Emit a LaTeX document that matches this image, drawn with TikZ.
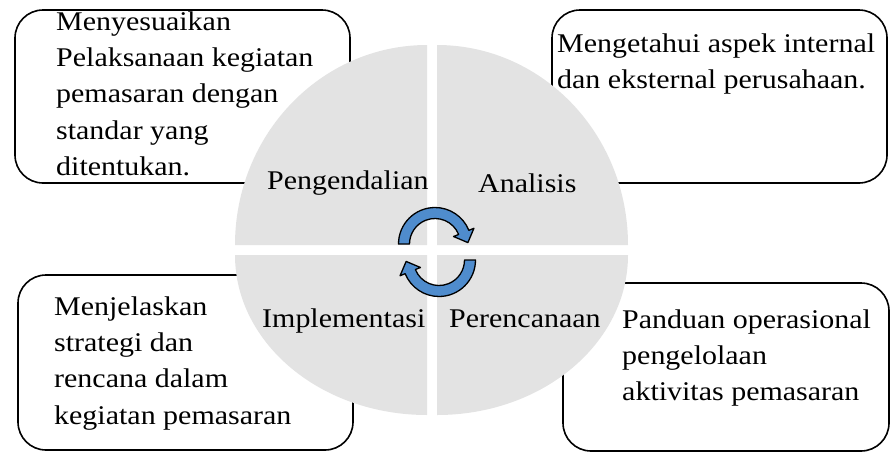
\documentclass[tikz,border=0pt]{standalone}
\usepackage{fontspec}
\setmainfont{Liberation Serif}[FakeStretch=1.11]
\usetikzlibrary{calc}
\definecolor{quarter}{RGB}{227,227,227}
\definecolor{arrowblue}{RGB}{79,140,205}
\begin{document}
\begin{tikzpicture}[x=1pt,y=1pt,
  infobox/.style={draw=black,line width=1.6pt,rounded corners=28pt,fill=white},
  quarterfill/.style={fill=quarter,draw=none},
  boxtext/.style={anchor=north west,inner sep=0pt,align=left,font=\fontsize{27}{36.3}\selectfont},
  quadlabel/.style={anchor=base west,inner sep=0pt,font=\fontsize{27}{36.3}\selectfont},
  cyclearrow/.style={fill=arrowblue,draw=black,line width=1.3pt,line join=round}]
\useasboundingbox (0,0) rectangle (891,-453);
% boxes
\draw[infobox] (15,-10) rectangle (350,-183);
\draw[infobox] (552,-10) rectangle (887,-183);
\draw[infobox] (18,-275) rectangle (353,-450);
\draw[infobox] (563,-283) rectangle (889,-451);
% quarters
\fill[quarterfill] (427,-245) -- (235,-245) arc[start angle=180,end angle=90,x radius=192,y radius=200] -- cycle;
\fill[quarterfill] (437,-245) -- (437,-45) arc[start angle=90,end angle=0,x radius=191,y radius=200] -- cycle;
\fill[quarterfill] (427,-255) -- (235,-255) arc[start angle=180,end angle=270,x radius=192,y radius=160] -- cycle;
\fill[quarterfill] (437,-255) -- (628,-255) arc[start angle=0,end angle=-90,x radius=191,y radius=160] -- cycle;
% box texts
\node[boxtext] (t1) at (56,-4.6) {\strut Menyesuaikan\\Pelaksanaan kegiatan\\pemasaran dengan\\standar yang\\ditentukan.};
\node[boxtext] (t2) at (557,-26.6) {\strut Mengetahui aspek internal\\dan eksternal perusahaan.};
\node[boxtext] (t3) at (54,-289.6) {\strut Menjelaskan\\strategi dan\\rencana dalam\\kegiatan pemasaran};
\node[boxtext] (t4) at (622,-302.6) {\strut Panduan operasional\\pengelolaan\\aktivitas pemasaran};
% labels
\node[quadlabel] (l1) at (267,-189) {Pengendalian};
\node[quadlabel] (l2) at (478,-192) {Analisis};
\node[quadlabel] (l3) at (262,-327) {Implementasi};
\node[quadlabel] (l4) at (449,-327) {Perencanaan};
% cycle arrows
\coordinate (ca) at (435,-244);
\coordinate (cb) at (439,-260);
\draw[cyclearrow] ($(ca)+(180:36.5)$) arc[start angle=180,end angle=22,radius=36.5]
  -- ($(ca)+(22:42)$) -- ($(ca)+(22:31)+(-68:11)$) -- ($(ca)+(22:20)$)
  -- ($(ca)+(22:25.5)$) arc[start angle=22,end angle=180,radius=25.5] -- cycle;
\draw[cyclearrow] ($(cb)+(0:36.5)$) arc[start angle=0,end angle=-158,radius=36.5]
  -- ($(cb)+(-158:42)$) -- ($(cb)+(-158:31)+(112:11)$) -- ($(cb)+(-158:20)$)
  -- ($(cb)+(-158:25.5)$) arc[start angle=-158,end angle=0,radius=25.5] -- cycle;
\end{tikzpicture}
\end{document}
